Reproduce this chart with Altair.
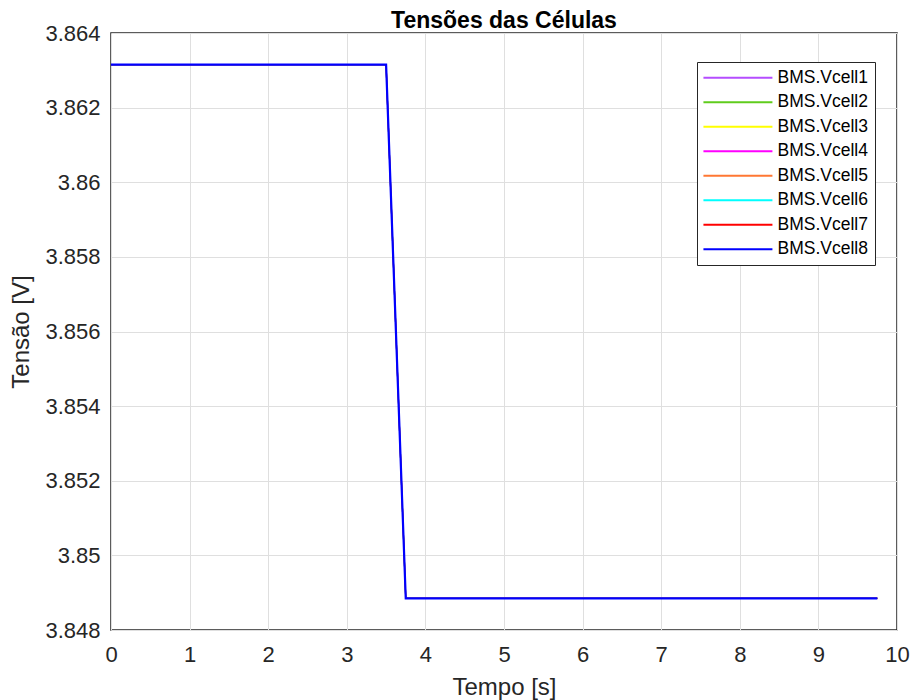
import altair as alt
import pandas as pd

series = ["BMS.Vcell1", "BMS.Vcell2", "BMS.Vcell3", "BMS.Vcell4",
          "BMS.Vcell5", "BMS.Vcell6", "BMS.Vcell7", "BMS.Vcell8"]
colors = ["#B54DFF", "#5FCC1C", "#FFFF00", "#FF00FF",
          "#FF7733", "#00FFFF", "#FF0000", "#0000FF"]
tempo = [0.0, 3.5, 3.75, 9.75]
tensao = [3.86315, 3.86315, 3.84885, 3.84885]
x_ticks = [0, 1, 2, 3, 4, 5, 6, 7, 8, 9, 10]
y_ticks = [3.848, 3.850, 3.852, 3.854, 3.856, 3.858, 3.860, 3.862, 3.864]

rows = []
for s in series:
    for t, v in zip(tempo, tensao):
        rows.append({"serie": s, "tempo": t, "tensao": v})
df = pd.DataFrame(rows)

font = "Liberation Sans"

chart = alt.Chart(df).mark_line(clip=True).encode(
    x=alt.X("tempo:Q", title="Tempo [s]",
            scale=alt.Scale(domain=[0, 10], nice=False, zero=False),
            axis=alt.Axis(values=x_ticks, format="d")),
    y=alt.Y("tensao:Q", title="Tensão [V]",
            scale=alt.Scale(domain=[3.848, 3.864], nice=False, zero=False),
            axis=alt.Axis(values=y_ticks, format=".3~f")),
    color=alt.Color("serie:N", scale=alt.Scale(domain=series, range=colors),
                    legend=alt.Legend(
                        title=None, orient="none", legendX=586, legendY=29,
                        symbolType="M-2.7,0H17.3", symbolSize=47.6, symbolStrokeWidth=2,
                        labelOffset=56, labelFont=font, labelFontSize=17.5,
                        labelColor="#000000", rowPadding=5.5,
                        strokeColor="#262626", fillColor="white", padding=7,
                    )),
    strokeWidth=alt.condition(alt.datum.serie == "BMS.Vcell8",
                              alt.value(2.2), alt.value(1.2)),
).properties(
    width=786, height=597,
    title=alt.TitleParams("Tensões das Células", font=font, fontSize=23,
                          fontWeight="bold", color="#000000", offset=0, dy=11,
                          anchor="middle"),
    autosize=alt.AutoSizeParams(type="none"),
    padding={"left": 111, "top": 33, "right": 15, "bottom": 70},
).configure_view(
    stroke="#262626", strokeWidth=1.5
).configure_axis(
    labelFont=font, titleFont=font, labelFontSize=22, titleFontSize=24,
    labelColor="#262626", titleColor="#262626", titleFontWeight="normal",
    grid=True, gridColor="#DFDFDF", gridWidth=1, domain=False,
    ticks=False, labelFlush=False,
).configure_axisY(
    labelPadding=11, titlePadding=11,
).configure_axisX(
    labelPadding=14, titlePadding=10,
)

chart.save("out.html", embed_options={"renderer": "svg", "actions": False})
